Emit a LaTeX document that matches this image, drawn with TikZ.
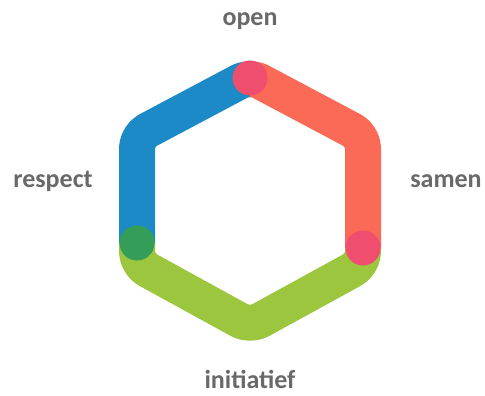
\documentclass[tikz,border=0pt]{standalone}
\usepackage{fontspec}
\setmainfont{Carlito}
\definecolor{hexblue}{RGB}{28,138,198}
\definecolor{hexred}{RGB}{250,106,86}
\definecolor{hexgreen}{RGB}{155,198,62}
\definecolor{dotpink}{RGB}{240,78,110}
\definecolor{dotgreen}{RGB}{52,158,88}
\definecolor{labelgrey}{RGB}{105,105,105}
\tikzset{
  band/.style={line width=36pt, rounded corners=12pt, line join=round},
  dot/.style={circle, inner sep=0pt, minimum size=35pt},
  lbl/.style={text=labelgrey, font=\bfseries\fontsize{26}{30}\selectfont, anchor=base, inner sep=0pt}
}
\begin{document}
\begin{tikzpicture}[x=1pt,y=-1pt]
\useasboundingbox (0,0) rectangle (485,396);
\coordinate (T) at (250,76);
\coordinate (UR) at (363,136);
\coordinate (LR) at (363,264);
\coordinate (B) at (250,326);
\coordinate (LL) at (137,264);
\coordinate (UL) at (137,136);
\coordinate (ML) at (137,200);
\coordinate (dT) at (250,78);
\coordinate (dR) at (363,248);
\coordinate (dL) at (137,243);
\def\hexring{(ML) -- (UL) -- (T) -- (UR) -- (LR) -- (B) -- (LL) -- cycle}
\begin{scope}
  \clip (0,0) rectangle (250,243);
  \draw[band, draw=hexblue] \hexring;
\end{scope}
\begin{scope}
  \clip (250,0) rectangle (485,248);
  \draw[band, draw=hexred] \hexring;
\end{scope}
\begin{scope}
  \clip (0,243) -- (250,243) -- (250,248) -- (485,248) -- (485,396) -- (0,396) -- cycle;
  \draw[band, draw=hexgreen] \hexring;
\end{scope}
\node[dot, fill=dotpink] (topdot) at (dT) {};
\node[dot, fill=dotpink] (rightdot) at (dR) {};
\node[dot, fill=dotgreen] (leftdot) at (dL) {};
\node[lbl] (open) at (250,26) {open};
\node[lbl] (respect) at (53,187) {respect};
\node[lbl] (samen) at (446,187) {samen};
\node[lbl] (initiatief) at (250,388) {initiatief};
\end{tikzpicture}
\end{document}
